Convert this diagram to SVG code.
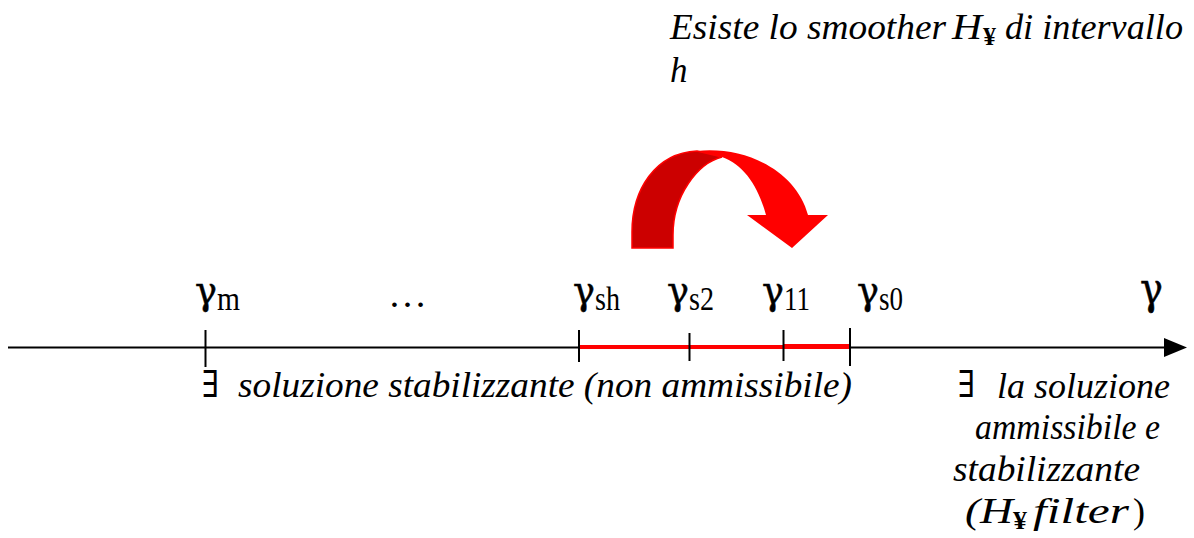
<svg xmlns="http://www.w3.org/2000/svg" width="1194" height="538" viewBox="0 0 1194 538">
<style>
.t{font-family:"Liberation Serif","Times New Roman",Times,serif;fill:#000}
.i{font-style:italic}
.g{font-family:"DejaVu Serif",serif;font-size:40px;fill:#000;stroke:#000;stroke-width:0.5}
.sub{font-size:34px}
.txt{font-size:35px}
.ax{stroke:#000;stroke-width:2;fill:none}
.tk{stroke:#000;stroke-width:2}
.red{stroke:#FF0000;stroke-width:4}
</style>
<rect width="1194" height="538" fill="#fff"/>
<g id="connectors">
<line class="ax" x1="8" y1="347.5" x2="1168" y2="347.5"/>
<polygon points="1164,338 1187,347.5 1164,357" fill="#000"/>
<line class="red" x1="580" y1="347" x2="851" y2="347"/>
<line stroke="#FF0000" stroke-width="5" x1="784" y1="346.5" x2="851" y2="346.5"/>
</g>
<g id="arrow-curved">
<path d="M632,248 L632,232 C632,190 655,153 697,151 L722,157 C698,163 673,195 673,235 L673,248 Z" fill="#CC0000" stroke="#FF0000" stroke-width="1.5"/>
<path d="M697,151 C745,146 796,170 808,215 L828,215 L792,248 L747,215 L766,215 C758,186 744,165 722,157 Z" fill="#FF0000"/>
</g>
<g id="tick-m"><line class="tk" x1="205.5" y1="330" x2="205.5" y2="367"/>
<text class="g" x="195" y="304" textLength="22" lengthAdjust="spacingAndGlyphs">γ</text><text class="t sub" x="217" y="310" textLength="23" lengthAdjust="spacingAndGlyphs">m</text></g>
<g id="dots"><text class="t" style="font-size:38px" x="388" y="307" textLength="39" lengthAdjust="spacingAndGlyphs">…</text></g>
<g id="tick-sh"><line class="tk" x1="579" y1="330" x2="579" y2="362"/>
<text class="g" x="573" y="304" textLength="22" lengthAdjust="spacingAndGlyphs">γ</text><text class="t sub" x="595" y="310" textLength="25" lengthAdjust="spacingAndGlyphs">sh</text></g>
<g id="tick-s2"><line class="tk" x1="689.5" y1="333" x2="689.5" y2="361"/>
<text class="g" x="667" y="304" textLength="22" lengthAdjust="spacingAndGlyphs">γ</text><text class="t sub" x="689" y="310" textLength="25" lengthAdjust="spacingAndGlyphs">s2</text></g>
<g id="tick-11"><line class="tk" x1="783.5" y1="330" x2="783.5" y2="361"/>
<text class="g" x="762" y="304" textLength="22" lengthAdjust="spacingAndGlyphs">γ</text><text class="t sub" x="784" y="310" textLength="26" lengthAdjust="spacingAndGlyphs">11</text></g>
<g id="tick-s0"><line class="tk" x1="850" y1="328" x2="850" y2="366"/>
<text class="g" x="857" y="304" textLength="22" lengthAdjust="spacingAndGlyphs">γ</text><text class="t sub" x="879" y="310" textLength="24" lengthAdjust="spacingAndGlyphs">s0</text></g>
<g id="gamma-axis"><text class="g" style="font-size:45px" x="1140" y="304" textLength="23" lengthAdjust="spacingAndGlyphs">γ</text></g>
<g id="label-top">
<text class="t i txt" x="670" y="39" textLength="276" lengthAdjust="spacingAndGlyphs">Esiste lo smoother</text>
<text class="t i txt" x="952" y="39" textLength="30" lengthAdjust="spacingAndGlyphs">H</text>
<text class="t" style="font-size:26px;font-weight:bold" x="983" y="45" textLength="13" lengthAdjust="spacingAndGlyphs">¥</text>
<text class="t i txt" x="1005" y="39" textLength="178" lengthAdjust="spacingAndGlyphs">di intervallo</text>
<text class="t i txt" x="670" y="82">h</text>
</g>
<g id="label-left">
<text class="t" style="font-size:37px" x="201" y="397" textLength="17" lengthAdjust="spacingAndGlyphs">∃</text>
<text class="t i txt" x="238" y="397" textLength="614" lengthAdjust="spacingAndGlyphs">soluzione stabilizzante (non ammissibile)</text>
</g>
<g id="label-right">
<text class="t" style="font-size:37px" x="957" y="397" textLength="17" lengthAdjust="spacingAndGlyphs">∃</text>
<text class="t i txt" x="997" y="398" textLength="173" lengthAdjust="spacingAndGlyphs">la soluzione</text>
<text class="t i txt" x="975" y="439" textLength="185" lengthAdjust="spacingAndGlyphs">ammissibile e</text>
<text class="t i txt" x="953" y="481" textLength="187" lengthAdjust="spacingAndGlyphs">stabilizzante</text>
<text class="t i txt" x="965" y="523" textLength="15" lengthAdjust="spacingAndGlyphs">(</text>
<text class="t i txt" x="980" y="523" textLength="33" lengthAdjust="spacingAndGlyphs">H</text>
<text class="t" style="font-size:26px;font-weight:bold" x="1013" y="529" textLength="14" lengthAdjust="spacingAndGlyphs">¥</text>
<text class="t i txt" x="1033" y="523" textLength="96" lengthAdjust="spacingAndGlyphs">filter</text>
<text class="t txt" x="1133" y="523" textLength="12" lengthAdjust="spacingAndGlyphs">)</text>
</g>
</svg>
